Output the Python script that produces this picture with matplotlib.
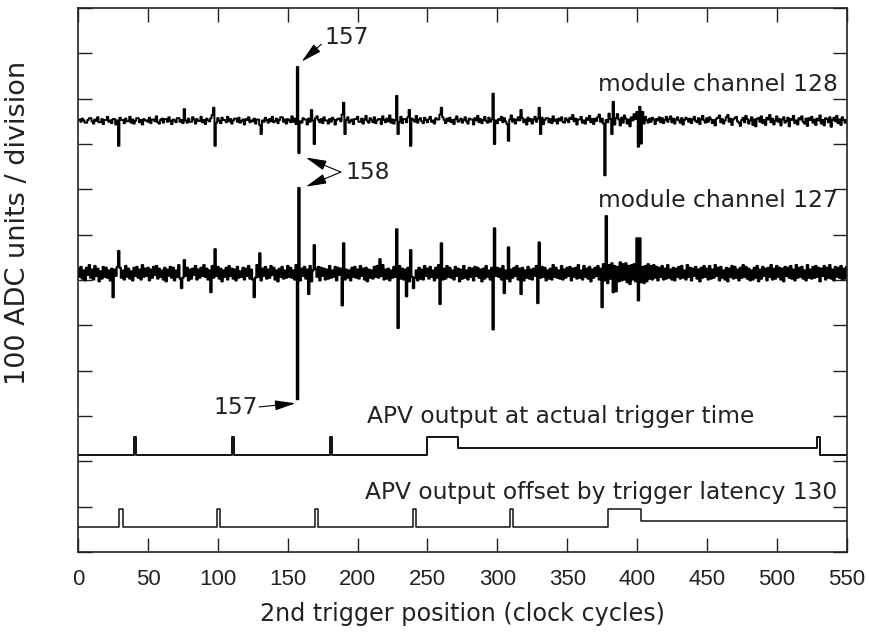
import numpy as np
import matplotlib.pyplot as plt

# clock cycle axis, one sample per clock
clock = np.arange(551)

# module channel 128: baseline level and noise (ADC units)
base_128 = 951
noise_128 = [
    3, 3, -2, 5, 1, -4, -4, 2, 6, 6, -1, -6, 3, 0, 8, -3, -3, 4, -7, 2, 2, 9, -2, 1, -5,
    4, 4, -8, 1, -3, 7, 2, 2, -5, 5, -1, -1, 9, -4, 3, -6, 0, 6, 6, -3, 2, -8, 4, 1, 1,
    -2, 7, -5, 3, 3, -1, 10, -3, -6, 2, 5, -4, 4, 4, -2, 8, 0, -7, 3, 1, -3, 6, 6, -2, 2,
    -5, 14, 1, -4, 5, -2, -2, 8, 3, -6, 4, 0, 0, 9, -3, 2, -7, 5, 1, -1, 6, 13, -2, 3, -4,
    6, 0, -5, 7, 2, 2, -3, 9, -1, 4, -6, 1, 5, 5, -2, 7, -4, 0, 3, -8, 4, 2, 8, -3, 1,
    -1, 5, -6, 3, 3, -9, 6, 1, -2, 7, 2, -4, 4, -1, 9, -3, 0, 5, -5, 2, 8, 8, -2, 3, -6,
    4, 1, -3, 10, -2, 5, -7, 2, 12, -1, -4, 6, 3, 3, -8, 5, -2, 9, 1, -12, 6, 10, 2, -3, 4,
    -5, 8, 1, 1, -6, 4, -2, 7, 3, -8, 2, 5, 5, -1, 14, 6, -3, 2, 8, -4, 0, 3, -7, 4, 4,
    9, -2, -2, 5, -6, 3, 11, 0, -4, 6, 2, -3, 8, -5, 1, 4, 4, -7, 10, 2, -3, 5, -1, 12, -4,
    3, -6, 2, 7, 1, -2, 9, -5, 4, 4, -3, 8, 0, -6, 5, 2, -2, 11, -4, 3, 6, -1, -5, 7, 2,
    -3, 4, 9, -2, 1, -6, 6, 3, 3, 14, -4, 8, 2, -5, 5, 0, 7, -3, 2, -7, 4, 10, -2, 1, 5,
    -4, 2, 8, -1, -6, 5, 3, 3, -8, 6, 1, 11, -3, 4, -5, 2, 9, 0, -4, 7, -2, 3, -6, 8, 1,
    -5, 4, 2, 9, -3, 6, -1, -7, 5, 3, 12, -2, 4, -6, 2, 8, 1, -4, 6, -3, 3, -8, 7, 0, 4,
    -6, 3, 9, -2, 5, 1, -4, 7, -7, 2, 6, 6, -3, 4, -5, 10, 0, 3, -6, 5, 1, 8, -2, -4, 6,
    2, -3, 7, 4, 13, -1, 5, -8, 3, 3, 9, -4, 1, -6, 6, 2, 11, -3, 4, -7, 5, 0, 8, 14, -2,
    5, -6, 9, 2, -3, 16, 4, 22, -2, -8, 6, 15, 3, -10, 7, -4, 12, 5, -6, 3, -12, 8, 1, 15, 4,
    -10, 6, 0, 8, 12, -6, 9, 2, -4, 5, -2, 7, 3, -7, 4, 1, 8, -3, 6, -5, 2, 9, -2, 4, 10,
    -3, 5, -6, 3, 8, 1, -4, 6, -8, 2, 7, 4, -2, 5, -5, 3, 9, 0, -3, 6, -7, 4, 11, 1, -4,
    6, -2, 8, 3, -5, 2, -10, 5, 7, 12, -3, 4, -6, 1, 8, 13, -2, 5, -9, 3, 6, 9, -1, -4, -11,
    2, 7, -3, 11, 4, -6, 1, 8, -9, 3, -12, 5, 6, -2, 10, -5, 2, -9, 7, 3, 13, -3, 5, -8, 1,
    10, -2, 4, -10, 3, 8, -4, 0, 7, -12, 4, 2, 11, -5, 1, -8, 6, 3, 10, -2, -6, 5, -11, 6, 2,
    9, -4, 3, -9, 5, 1, 12, -6, 2, -10, 6, 4, -3, 8, -13, 2, 7, -1, 11, -5, 3, -9, 8, 2, -4,
    2,
]
spikes_128 = {29: -55, 76: 26, 97: 29, 98: -55, 131: -29, 157: 119, 158: -71,
              167: 24, 169: -51, 190: 40, 191: -29, 228: 55, 229: -29, 237: 24,
              238: -55, 260: 29, 297: 60, 298: -51, 308: -44, 317: 24, 330: 29,
              331: -29, 377: -120, 382: -29, 383: 42, 400: 20, 401: -57, 402: 31,
              403: -50, 404: 20}

# module channel 127
base_127 = 615
noise_127 = [
    10, -8, 14, -12, 6, -16, 12, -4, 18, -10, 8, -14, 16, -6, 10, -18, 4, -12, 14, -8, 12, -10, 6, -16, 10,
    -12, 8, -6, 14, -18, 12, -10, 6, -14, 16, -8, 10, -12, 4, -16, 12, -6, 14, -10, 8, -14, 18, -8, 10, -6,
    12, -16, 8, -10, 14, -4, 16, -12, 10, -8, 6, -14, 12, -18, 8, -6, 14, -10, 12, -16, 6, -8, 18, -12, 10,
    -10, 14, -6, 12, -16, 8, -12, 10, -4, 16, -14, 8, -10, 12, -6, 18, -8, 10, -14, 6, -12, 16, -10, 8, -6,
    14, -12, 10, -18, 6, -8, 12, -14, 16, -6, 10, -12, 8, -16, 14, -10, 4, -8, 12, -14, 10, -6, 16, -12, 8,
    -14, 6, -10, 18, -8, 12, -16, 10, -6, 14, -12, 8, -10, 16, -4, 12, -14, 6, -18, 10, -8, 14, -12, 6, -10,
    16, -8, 12, -10, 6, -14, 18, -12, 8, -16, 10, -6, 14, -12, 8, -10, 16, -18, 6, -12, 10, -8, 14, -16, 12,
    -6, 10, -14, 8, -12, 16, -10, 6, -8, 14, -16, 12, -4, 10, -12, 18, -14, 8, -10, 6, -16, 12, -8, 14, -10,
    8, -12, 16, -6, 10, -14, 12, -18, 8, -10, 6, -12, 14, -8, 16, -10, 12, -6, 18, -14, 8, -12, 10, -16, 6,
    -10, 14, -8, 12, -4, 16, -12, 10, -14, 8, -6, 12, -18, 10, -8, 14, -10, 6, -16, 12, -12, 8, -14, 16, -6,
    10, -12, 14, -8, 6, -16, 12, -10, 18, -6, 8, -14, 10, -12, 16, -8, 12, -10, 6, -14, 14, -6, 10, -18, 8,
    -12, 16, -10, 6, -14, 12, -8, 10, -16, 14, -6, 12, -10, 8, -18, 10, -12, 16, -8, 6, -14, 12, -10, 14, -6,
    12, -8, 10, -14, 16, -10, 6, -12, 14, -18, 8, -10, 12, -6, 16, -14, 10, -8, 12, -16, 6, -10, 14, -12, 8,
    -14, 10, -6, 16, -12, 8, -10, 14, -8, 12, -16, 6, -12, 10, -14, 18, -8, 12, -10, 6, -12, 16, -14, 8, -10,
    12, -6, 14, -16, 10, -8, 12, -12, 18, -10, 6, -14, 16, -8, 10, -12, 14, -18, 8, -10, 12, -6, 16, -14, 10,
    -18, 20, -16, 14, -22, 18, -12, 22, -24, 16, -20, 14, -18, 24, -16, 20, -14, 22, -20, 16, -24, 18, -14, 20, -18,
    22, -16, 18, -20, 14, -22, 16, -18, 20, -12, 16, -14, 18, -10, 14, -16, 12, -8, 16, -14, 10, -12, 18, -10, 8,
    -14, 12, -16, 10, -8, 14, -12, 16, -10, 6, -14, 18, -8, 12, -16, 10, -6, 14, -12, 8, -18, 12, -10, 16, -8,
    10, -14, 16, -12, 8, -10, 18, -6, 12, -16, 14, -10, 6, -14, 12, -18, 10, -8, 16, -12, 14, -10, 8, -16, 12,
    -10, 18, -8, 14, -12, 10, -16, 6, -14, 12, -10, 16, -18, 8, -12, 14, -6, 10, -16, 12, -8, 18, -14, 10, -12,
    16, -8, 12, -14, 10, -18, 14, -6, 12, -10, 16, -12, 8, -16, 18, -10, 12, -8, 14, -12, 6, -16, 18, -10, 8,
    -12, 14, -10, 16, -8, 12, -18, 10, -6, 16, -14, 12, -10, 18, -12, 8, -16, 14, -8, 12, -10, 16, -14, 10, -12,
    14,
]
spikes_127 = {25: -53, 29: 49, 74: -33, 76: 29, 95: -42, 98: 53, 126: -53, 130: 44,
              157: -278, 158: 188, 165: -46, 169: 62, 189: -71, 190: 66, 216: 31,
              228: 97, 229: -121, 235: -51, 238: 51, 240: -33, 259: -68, 260: 66,
              297: -124, 298: 99, 305: -44, 308: 57, 317: -46, 329: -66, 330: 68,
              375: -75, 378: 126, 383: -42, 385: -40, 400: 77, 401: -60, 402: 77}

# APV output at actual trigger time (step edges and levels)
apv_edges = [0, 40, 41.5, 110, 111.5, 180, 181.5, 249.5, 272, 529, 531, 550]
apv_levels = [215, 254, 215, 254, 215, 254, 215, 254, 229, 254, 215, 215]

# APV output offset by trigger latency 130
apv_off_edges = [0, 29.5, 32, 99.2, 101.6, 169.5, 171.7, 239.4, 241.5, 309, 311.5, 379.4, 402.7, 550]
apv_off_levels = [56, 95, 56, 95, 56, 95, 56, 95, 56, 95, 56, 95, 69, 69]

x_ticks = list(range(0, 551, 50))

ch128 = base_128 + np.array(noise_128, dtype=float)
for k, v in spikes_128.items():
    ch128[k] = base_128 + v
ch127 = base_127 + np.array(noise_127, dtype=float)
for k, v in spikes_127.items():
    ch127[k] = base_127 + v

fig = plt.figure(figsize=(8.69, 6.35), dpi=100)
ax = fig.add_axes([78.2 / 869, 83 / 635, 768.4 / 869, 544 / 635])

ax.plot(clock, ch128, drawstyle='steps-mid', color='black', lw=1.4)
ax.plot(clock, ch127, drawstyle='steps-mid', color='black', lw=1.5)
ax.plot(apv_edges, apv_levels, drawstyle='steps-post', color='#111111', lw=1.4)
ax.plot(apv_off_edges, apv_off_levels, drawstyle='steps-post', color='#111111', lw=1.1)

ax.set_xlim(0, 550)
ax.set_ylim(0, 1200)
ax.set_xticks(x_ticks)
ax.set_yticks(range(0, 1201, 100))
ax.tick_params(direction='in', length=10, width=1, top=True, right=True,
               labelsize=16, pad=12, colors='#222222')
ax.tick_params(axis='y', labelleft=False)
for lab in ax.get_xticklabels():
    lab.set_family(['Liberation Sans', 'DejaVu Sans'])
for sp in ax.spines.values():
    sp.set_linewidth(1.2)
    sp.set_color('#222222')

ax.set_xlabel('2nd trigger position (clock cycles)', fontsize=17.2, labelpad=9, color='#222222')
ax.set_ylabel('100 ADC units / division', fontsize=19.5, color='#222222')
ax.yaxis.set_label_coords(-0.062, 0.605)

txt = dict(fontsize=16.8, color='#222222')
ax.text(543.5, 1017, 'module channel 128', ha='right', va='baseline', **txt)
ax.text(543.5, 762, 'module channel 127', ha='right', va='baseline', **txt)
ax.text(206.5, 285, 'APV output at actual trigger time', ha='left', va='baseline', **txt)
ax.text(205, 118, 'APV output offset by trigger latency 130', ha='left', va='baseline', **txt)

# spike annotations
arr = dict(arrowstyle='-|>,head_length=0.9,head_width=0.22', color='black',
           lw=0.8, mutation_scale=14, shrinkA=0, shrinkB=0)
ax.text(176.5, 1134, '157', ha='left', va='center', **txt)
ax.annotate('', xy=(160, 1082), xytext=(174, 1120), arrowprops=arr)
ax.text(191, 838, '158', ha='left', va='center', **txt)
ax.annotate('', xy=(163, 870), xytext=(188, 838), arrowprops=arr)
ax.annotate('', xy=(163, 806), xytext=(188, 838), arrowprops=arr)
ax.text(128.5, 318, '157', ha='right', va='center', **txt)
ax.annotate('', xy=(155.5, 328), xytext=(129.5, 320), arrowprops=arr)

fig.savefig('out.png', dpi=100)
